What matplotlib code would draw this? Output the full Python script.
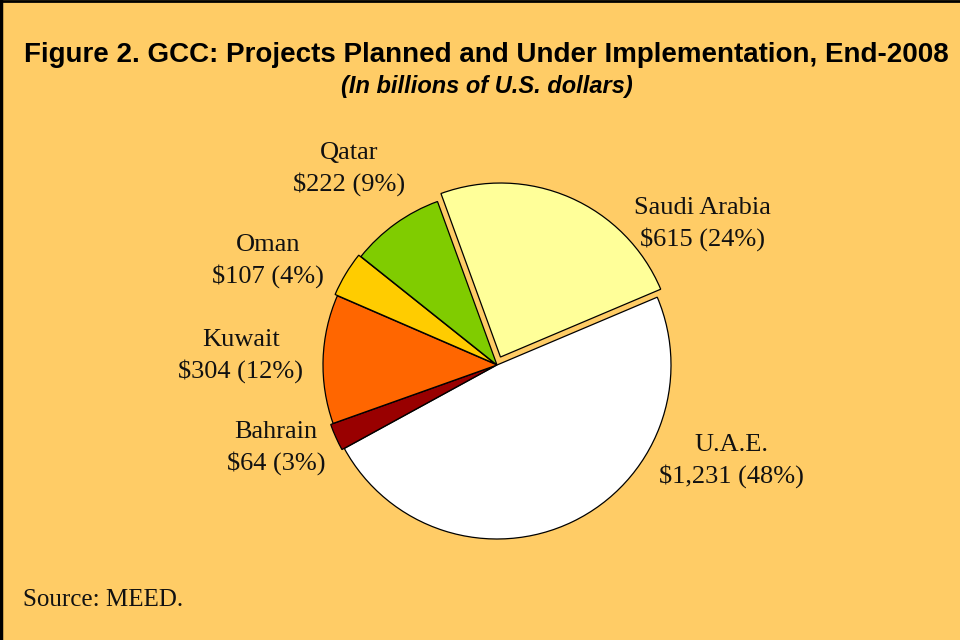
"""GCC projects pie chart, end-2008."""

import matplotlib
matplotlib.use("Agg")
import matplotlib.pyplot as plt
from matplotlib.lines import Line2D

countries = ["Saudi Arabia", "U.A.E.", "Bahrain", "Kuwait", "Oman", "Qatar"]
values = [615, 1231, 64, 304, 107, 222]
value_labels = ["$615", "$1,231", "$64", "$304", "$107", "$222"]
shares = ["24%", "48%", "3%", "12%", "4%", "9%"]
colors = ["#FFFF99", "#FFFFFF", "#990000", "#FF6600", "#FFCC00", "#80CC00"]
explode = [0.05, 0.0, 0.015, 0.0, 0.015, 0.0]

# label centres in pixels (x, y from top)
label_pos = [(702, 224), (731, 461), (276, 448), (241, 356), (268, 261), (349, 169)]

BG = "#FFCC66"
W, H = 960, 640
cx, cy, r = 497, 365, 174

fig = plt.figure(figsize=(W / 100, H / 100), dpi=100, facecolor=BG)

half = 210
ax = fig.add_axes([(cx - half) / W, (H - cy - half) / H, 2 * half / W, 2 * half / H])
ax.set_facecolor(BG)
ax.pie(
    values,
    colors=colors,
    explode=explode,
    startangle=110,
    counterclock=False,
    radius=1.0,
    wedgeprops=dict(edgecolor="black", linewidth=0.9),
)
lim = half / r
ax.set_xlim(-lim, lim)
ax.set_ylim(-lim, lim)
ax.set_aspect("equal")
ax.axis("off")

for name, val, share, (px, py) in zip(countries, value_labels, shares, label_pos):
    fig.text(px / W, 1 - py / H, f"{name}\n{val} ({share})", ha="center", va="center",
             fontsize=19, family="Liberation Serif", linespacing=1.4, color="#111111")

title_font = ["Liberation Sans", "DejaVu Sans"]
fig.text(486 / W, 1 - 55 / H, "Figure 2. GCC: Projects Planned and Under Implementation, End-2008",
         ha="center", va="center", fontsize=20, fontweight="bold", family=title_font)
fig.text(487 / W, 1 - 87 / H, "(In billions of U.S. dollars)", ha="center", va="center",
         fontsize=17, fontweight="bold", fontstyle="italic", family=title_font)
fig.text(23 / W, 1 - 600 / H, "Source: MEED.", ha="left", va="center",
         fontsize=18, family="Liberation Serif", color="#111111")

# frame (only left and top edges visible in the crop)
fig.add_artist(Line2D([1 / W, 1 / W], [0, 1], transform=fig.transFigure, color="black", lw=2.5))
fig.add_artist(Line2D([0, 1], [1 - 1 / H, 1 - 1 / H], transform=fig.transFigure, color="black", lw=2))

fig.savefig("out.png", dpi=100, facecolor=BG)
